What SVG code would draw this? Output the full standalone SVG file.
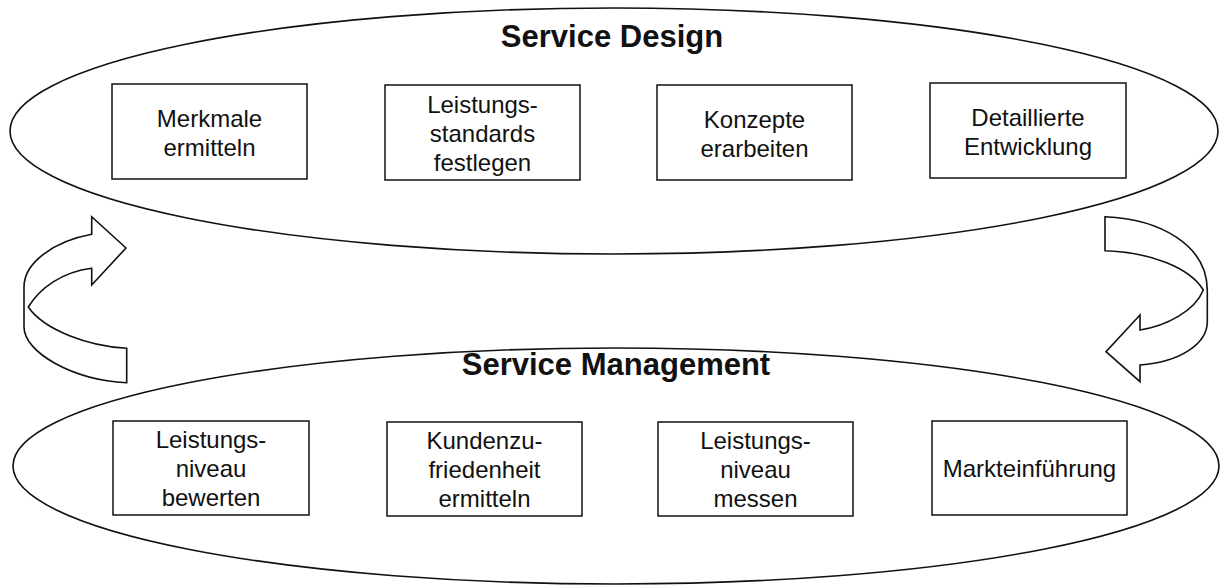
<svg xmlns="http://www.w3.org/2000/svg" width="1220" height="587" viewBox="0 0 1220 587">
  <style>
    .band { fill: none; stroke: #111; stroke-width: 1.6; }
    .box { fill: #fff; stroke: #111; stroke-width: 1.5; }
    .cycle { fill: #fff; stroke: #111; stroke-width: 1.6; stroke-linejoin: miter; }
    .title { font-family: "Liberation Sans", Arial, sans-serif; font-weight: bold; font-size: 31px; fill: #111; text-anchor: middle; }
    .label { font-family: "Liberation Sans", Arial, sans-serif; font-size: 24px; fill: #111; text-anchor: middle; }
  </style>
  <rect width="1220" height="587" fill="#fff"/>

  <!-- Service Design phase -->
  <g id="service-design">
    <ellipse class="band" cx="614" cy="131" rx="604" ry="123"/>
    <text class="title" x="612" y="47">Service Design</text>
  </g>
  <g id="merkmale-ermitteln">
    <rect class="box" x="112" y="84" width="195" height="95"/>
    <text class="label" x="209.5" y="127">Merkmale</text>
    <text class="label" x="209.5" y="156">ermitteln</text>
  </g>
  <g id="leistungsstandards-festlegen">
    <rect class="box" x="385" y="85" width="195" height="95"/>
    <text class="label" x="482.5" y="113">Leistungs-</text>
    <text class="label" x="482.5" y="142">standards</text>
    <text class="label" x="482.5" y="171">festlegen</text>
  </g>
  <g id="konzepte-erarbeiten">
    <rect class="box" x="657" y="85" width="195" height="95"/>
    <text class="label" x="754.5" y="128">Konzepte</text>
    <text class="label" x="754.5" y="157">erarbeiten</text>
  </g>
  <g id="detaillierte-entwicklung">
    <rect class="box" x="930" y="83" width="196" height="95"/>
    <text class="label" x="1028" y="126">Detaillierte</text>
    <text class="label" x="1028" y="155">Entwicklung</text>
  </g>

  <!-- Service Management phase -->
  <g id="service-management">
    <ellipse class="band" cx="616" cy="466" rx="603" ry="118"/>
    <text class="title" x="616" y="375">Service Management</text>
  </g>
  <g id="leistungsniveau-bewerten">
    <rect class="box" x="113" y="421" width="196" height="94"/>
    <text class="label" x="211" y="448">Leistungs-</text>
    <text class="label" x="211" y="477">niveau</text>
    <text class="label" x="211" y="506">bewerten</text>
  </g>
  <g id="kundenzufriedenheit-ermitteln">
    <rect class="box" x="387" y="422" width="195" height="94"/>
    <text class="label" x="484.5" y="449">Kundenzu-</text>
    <text class="label" x="484.5" y="478">friedenheit</text>
    <text class="label" x="484.5" y="507">ermitteln</text>
  </g>
  <g id="leistungsniveau-messen">
    <rect class="box" x="658" y="422" width="195" height="94"/>
    <text class="label" x="755.5" y="449">Leistungs-</text>
    <text class="label" x="755.5" y="478">niveau</text>
    <text class="label" x="755.5" y="507">messen</text>
  </g>
  <g id="markteinfuehrung">
    <rect class="box" x="932" y="421" width="195" height="94"/>
    <text class="label" x="1029.5" y="477">Markteinführung</text>
  </g>

  <!-- Cycle arrows linking both phases -->
  <g id="connectors">
    <!-- left: management back up to design -->
    <path class="cycle" d="M126,248 L91.7,216.7 L91.7,234.3 C55,241 24,262 24,287 L24,327 C24,352 72,380 126.7,382.7 L126.7,348.3 C88,346 44,330 28.3,307 C40,288 62,272 91.7,268.3 L91.7,285 Z"/>
    <!-- right: design down to management -->
    <path class="cycle" d="M1105,216.7 C1160,219 1207,245 1207.3,290 L1207.3,322 C1207,344 1180,362 1140,365 L1140,381.7 L1106,351.7 L1140,315 L1140,330 C1166,326 1195,311 1203.3,290 C1190,268 1150,252 1105,250.7 Z"/>
  </g>
</svg>
